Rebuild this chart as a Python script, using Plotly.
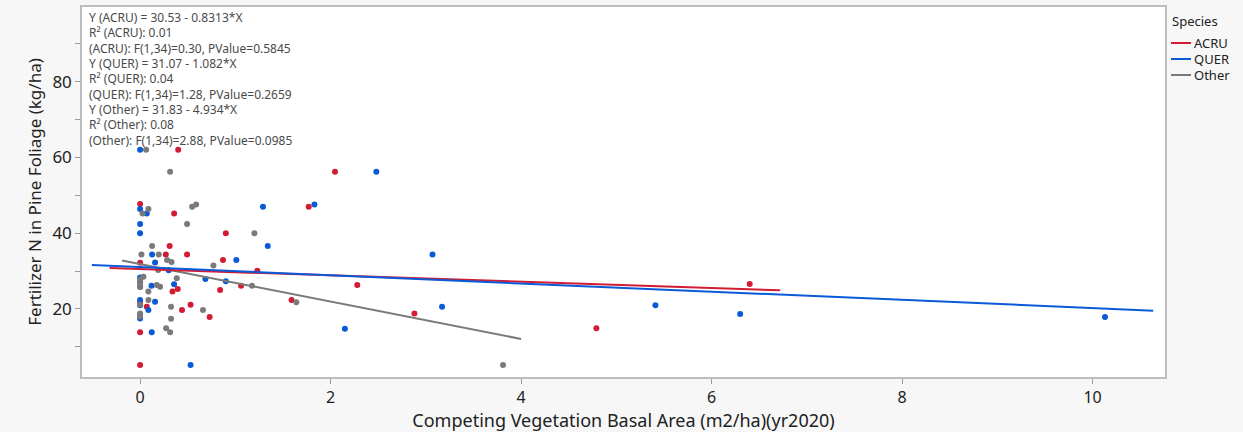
import plotly.graph_objects as go

# Competing vegetation basal area (m2/ha, 2020) vs fertilizer N in pine foliage (kg/ha)
acru_x = [0.40, 0.00, 0.357, 0.90, 0.31, 0.27, 0.493, 0.87, 0.00, 1.23, 1.06, 0.395, 0.34,
          0.84, 0.00, 0.53, 0.07, 0.44, 0.73, 0.00, 0.00, 2.046, 1.77, 2.28, 1.59, 2.88,
          6.40, 4.79]
acru_y = [62.0, 47.7, 45.2, 40.0, 36.6, 34.4, 34.4, 32.9, 32.2, 30.1, 26.1, 25.3, 24.6,
          25.0, 21.9, 21.1, 20.6, 19.7, 17.9, 13.85, 5.2, 56.2, 47.0, 26.3, 22.4, 18.8,
          26.6, 14.9]

quer_x = [0.00, 0.00, 0.07, 1.29, 0.00, 0.00, 1.34, 0.126, 1.01, 0.157, 0.30, 0.00, 0.686,
          0.90, 0.12, 0.357, 0.00, 0.157, 0.087, 0.00, 0.122, 0.53, 2.48, 1.83, 3.07, 3.17,
          2.15, 5.41, 6.30, 10.13, 0.00, 0.00, 0.00, 0.00]
quer_y = [62.0, 46.4, 45.2, 47.0, 42.4, 40.0, 36.6, 34.4, 32.9, 32.3, 30.2, 28.3, 27.9,
          27.3, 26.1, 26.5, 22.4, 21.9, 19.7, 17.5, 13.85, 5.2, 56.2, 47.6, 34.4, 20.6,
          14.8, 21.0, 18.7, 17.9, 27.2, 25.9, 21.0, 18.5]

other_x = [0.063, 0.315, 0.087, 0.025, 0.546, 0.588, 0.493, 1.20, 0.126, 0.014, 0.196,
           0.283, 0.33, 0.77, 0.19, 0.035, 0.385, 0.175, 0.21, 1.175, 0.087, 0.087, 0.00,
           0.325, 0.66, 0.00, 0.00, 0.325, 0.273, 0.315, 1.64, 3.81, 0.00, 0.00, 0.00]
other_y = [62.0, 56.2, 46.4, 45.2, 47.0, 47.6, 42.4, 40.0, 36.6, 34.4, 34.4, 32.9, 32.4,
           31.5, 30.3, 28.5, 28.1, 26.3, 25.9, 26.1, 24.6, 22.4, 21.2, 20.6, 19.7, 18.8,
           18.0, 17.4, 14.9, 13.85, 21.8, 5.2, 27.8, 26.8, 25.8]

# Fitted lines: Y = intercept + slope * X
species = ["ACRU", "QUER", "Other"]
intercepts = [30.53, 31.07, 31.83]
slopes = [-0.8313, -1.082, -4.934]
r_squared = ["0.01", "0.04", "0.08"]
f_stats = ["0.30", "1.28", "2.88"]
p_values = ["0.5845", "0.2659", "0.0985"]
slope_text = ["0.8313", "1.082", "4.934"]
intercept_text = ["30.53", "31.07", "31.83"]

colors = {"ACRU": "#d21c33", "QUER": "#0a5ad8", "Other": "#7a7a7a"}
points = {"ACRU": (acru_x, acru_y), "QUER": (quer_x, quer_y), "Other": (other_x, other_y)}

W, H = 1243, 432
plot_left, plot_right = 82, 1165
plot_top, plot_bottom = 7, 377
plot_w = plot_right - plot_left
plot_h = plot_bottom - plot_top

fig = go.Figure()

for sp in species:
    xs, ys = points[sp]
    fig.add_trace(go.Scatter(
        x=xs, y=ys, mode="markers", showlegend=False,
        marker=dict(size=6, color=colors[sp]), name=sp,
    ))

# regression lines, extended 5% of the x span beyond the data on each side
line_order = ["Other", "ACRU", "QUER"]
for sp in line_order:
    i = species.index(sp)
    xs, _ = points[sp]
    lo, hi = min(xs), max(xs)
    pad = 0.05 * (hi - lo)
    x0, x1 = lo - pad, hi + pad
    fig.add_trace(go.Scatter(
        x=[x0, x1], y=[intercepts[i] + slopes[i] * x0, intercepts[i] + slopes[i] * x1],
        mode="lines", name=sp, showlegend=False,
        line=dict(color=colors[sp], width=2),
    ))

# fit summary text block
lines = []
for i, sp in enumerate(species):
    lines.append(f"Y ({sp}) = {intercept_text[i]} - {slope_text[i]}*X")
    lines.append(f"R\u00b2 ({sp}): {r_squared[i]}")
    lines.append(f"({sp}): F(1,34)={f_stats[i]}, PValue={p_values[i]}")

for k, txt in enumerate(lines):
    ypx = 17.5 + 15.35 * k
    fig.add_annotation(
        x=0.005, xref="paper", xanchor="left",
        y=(plot_bottom - ypx) / plot_h, yref="paper", yanchor="middle",
        text=txt, showarrow=False,
        font=dict(family="Noto Sans", size=12, color="#4a4a4a"),
    )


def px_x(px):
    return (px - plot_left) / plot_w


def px_y(py):
    return (plot_bottom - py) / plot_h


# species key to the right of the frame
fig.add_annotation(
    x=px_x(1170), xref="paper", xanchor="left", y=px_y(21), yref="paper", yanchor="middle",
    text="Species", showarrow=False, font=dict(family="Noto Sans", size=13, color="#222222"),
)
for k, sp in enumerate(species):
    ypx = 43 + 16 * k
    fig.add_shape(
        type="line", xref="paper", yref="paper",
        x0=px_x(1171), x1=px_x(1191), y0=px_y(ypx), y1=px_y(ypx),
        line=dict(color=colors[sp], width=2),
    )
    fig.add_annotation(
        x=px_x(1192), xref="paper", xanchor="left", y=px_y(ypx), yref="paper",
        yanchor="middle", text=sp, showarrow=False,
        font=dict(family="Noto Sans", size=13, color="#222222"),
    )

fig.update_layout(
    width=W, height=H,
    margin=dict(l=plot_left, r=W - plot_right, t=plot_top, b=H - plot_bottom,
                autoexpand=False),
    paper_bgcolor="#f7f7f7", plot_bgcolor="#ffffff",
    font=dict(family="Noto Sans", color="#222222"),
    showlegend=False,
    xaxis=dict(
        range=[-0.61, 10.76], tickvals=[0, 2, 4, 6, 8, 10],
        showgrid=False, zeroline=False,
        showline=True, mirror=True, linecolor="#bdbdbd", linewidth=1.5,
        ticks="outside", ticklen=5, tickcolor="#9a9a9a",
        tickfont=dict(size=16, color="#222222"),
        title=dict(text="Competing Vegetation Basal Area (m2/ha)(yr2020)",
                   font=dict(size=18, color="#222222"), standoff=6),
    ),
    yaxis=dict(
        range=[2.05, 99.7], tickvals=[20, 40, 60, 80],
        showgrid=False, zeroline=False,
        showline=True, mirror=True, linecolor="#bdbdbd", linewidth=1.5,
        ticks="outside", ticklen=5, tickcolor="#9a9a9a",
        minor=dict(tickvals=[10, 30, 50, 70, 90], ticks="outside", ticklen=5,
                   tickcolor="#9a9a9a"),
        tickfont=dict(size=17, color="#222222"),
        title=dict(text="Fertilizer N in Pine Foliage (kg/ha)",
                   font=dict(size=17, color="#222222"), standoff=6),
    ),
)

fig.write_html("out.html")
